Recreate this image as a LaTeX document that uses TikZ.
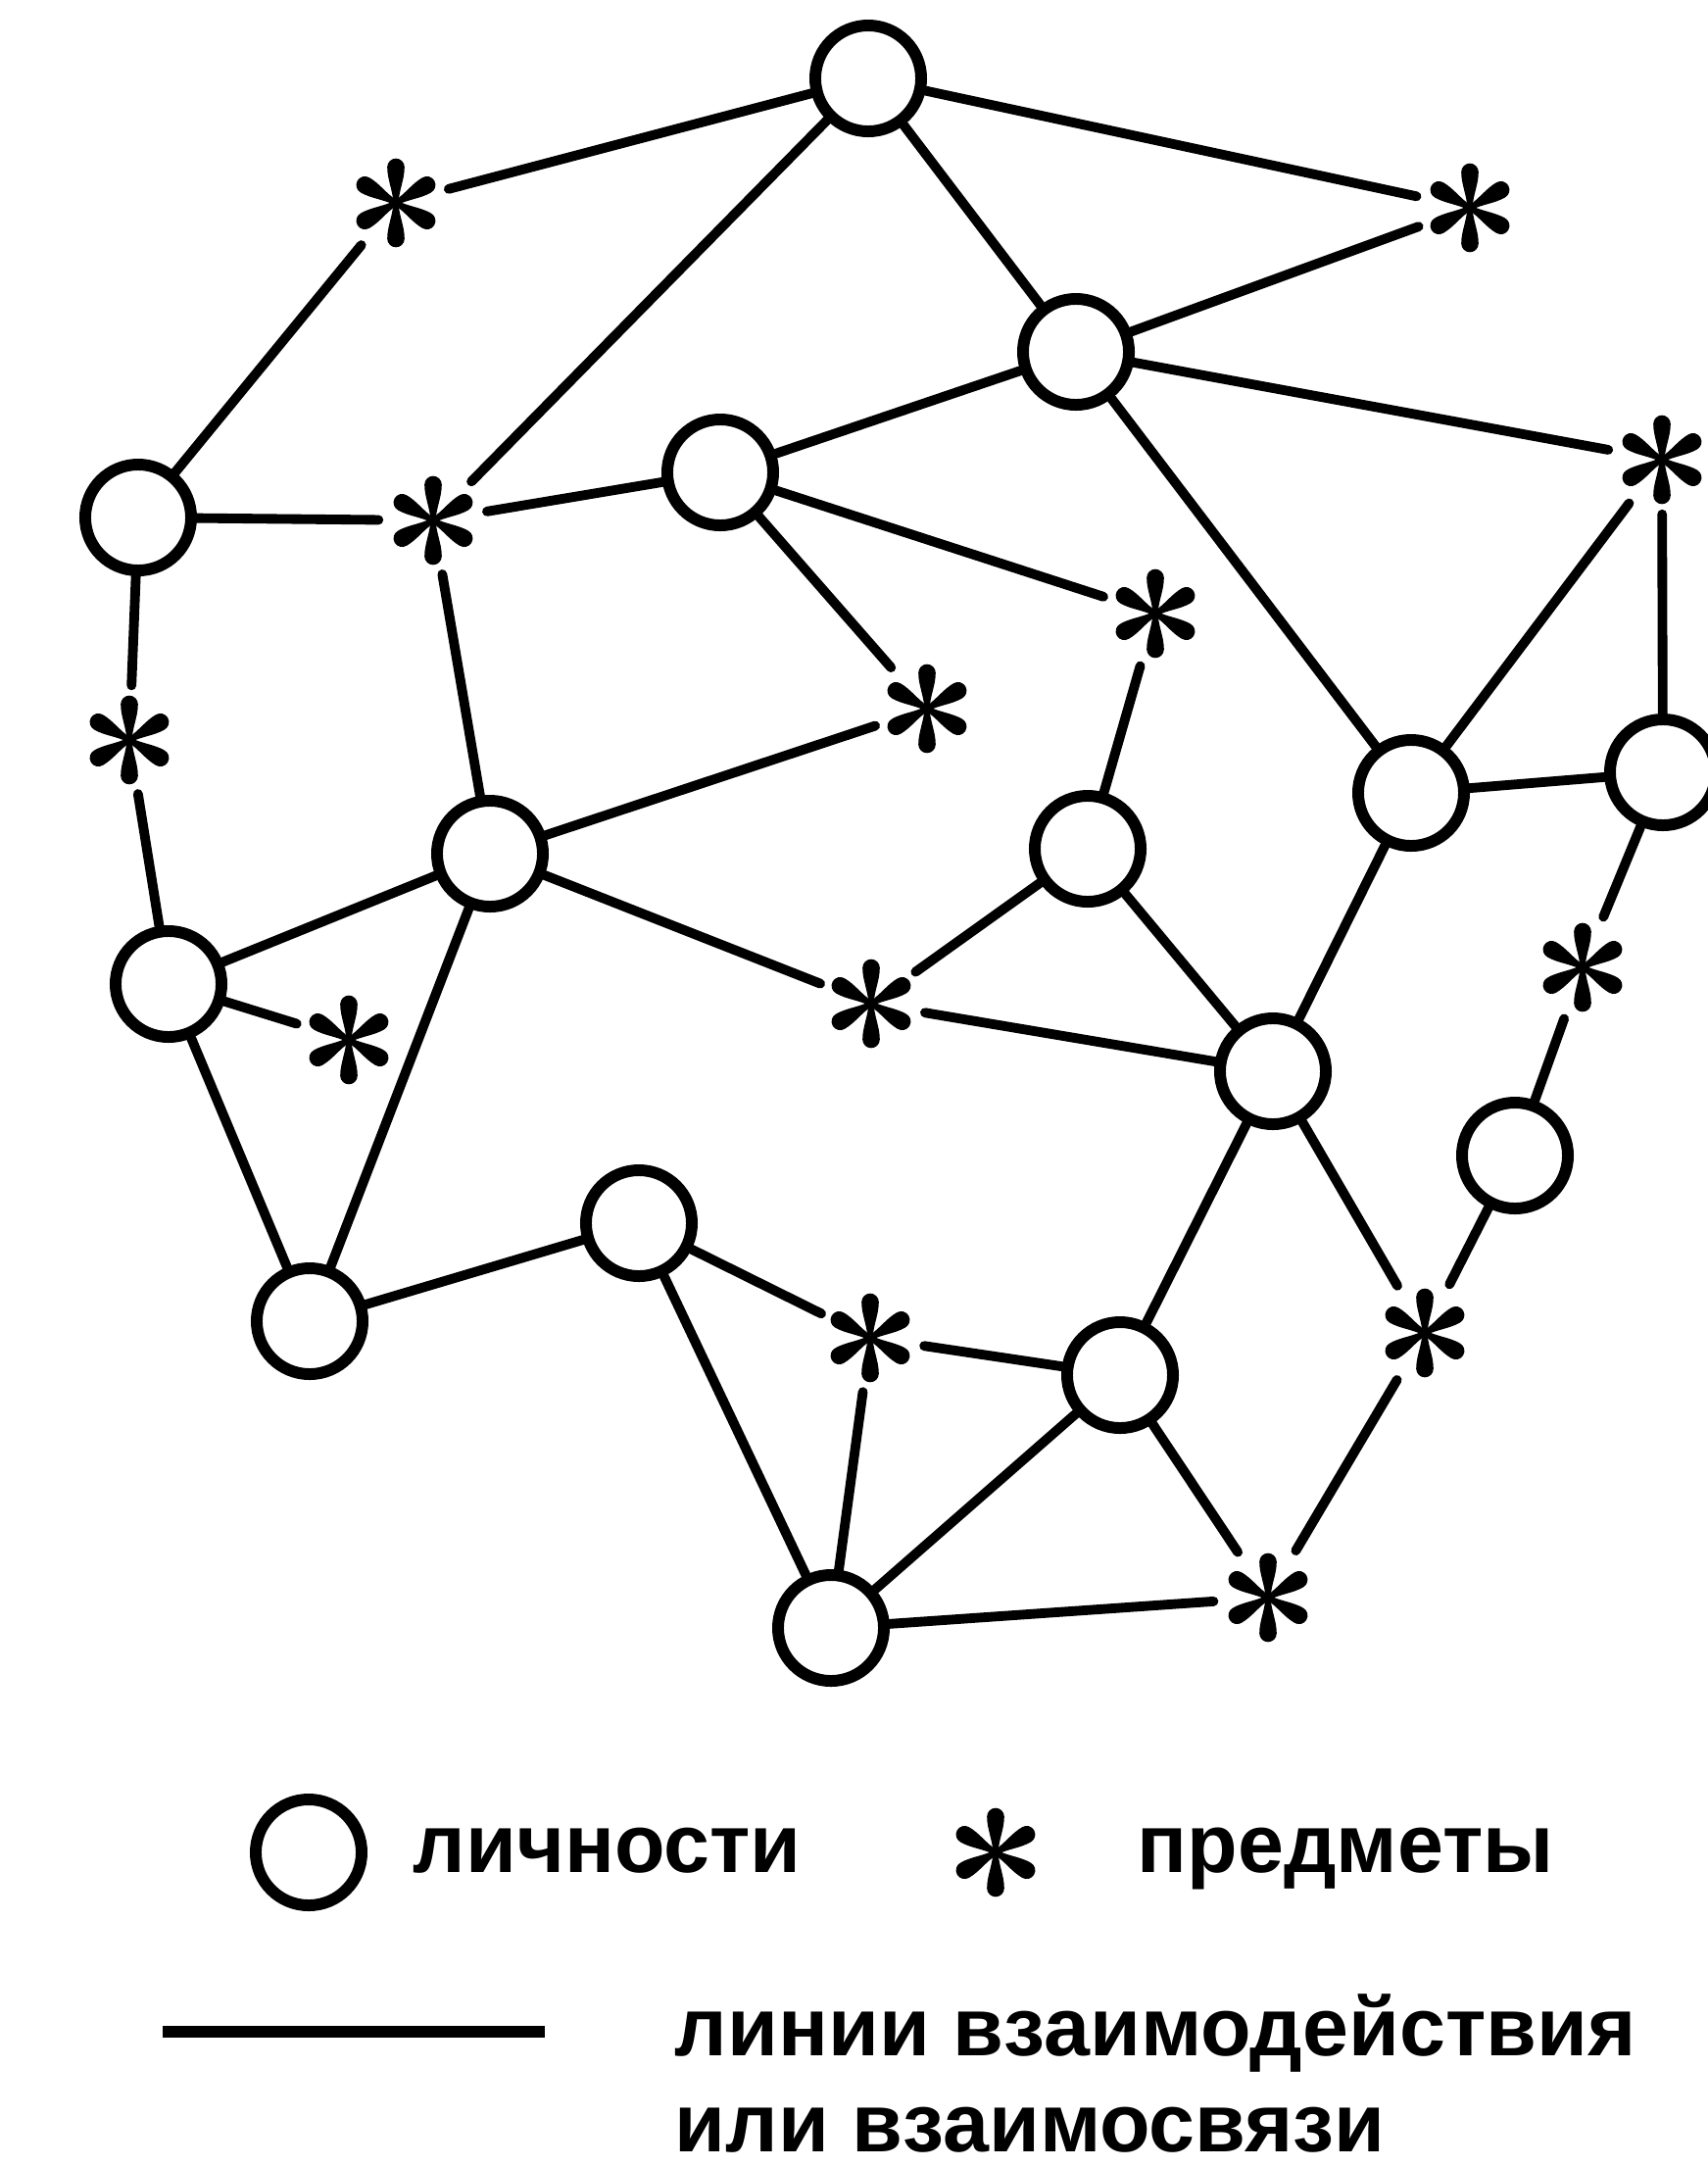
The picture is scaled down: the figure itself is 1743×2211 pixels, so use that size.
\documentclass[tikz,border=0pt]{standalone}
\usepackage{fontspec}
\setmainfont{Liberation Sans}
\usepackage{tikz}
\usetikzlibrary{positioning}
\definecolor{ink}{HTML}{000000}

\tikzset{
  person/.style={circle, draw=ink, line width=3.4pt, minimum size=1.08cm, inner sep=0pt},
  thing/.style={circle, minimum size=1.1cm, inner sep=0pt},
  tie/.style={draw=ink, line width=2.8pt, line cap=round},
  petals/.pic={
    \foreach \a in {90,30,-30,-90,-150,150}{
      \fill[ink, rotate=\a] (0cm,0.025cm) .. controls (0.14cm,0.035cm) and (0.24cm,0.088cm) .. (0.365cm,0.088cm)
        arc[start angle=90, end angle=-90, radius=0.088cm]
        .. controls (0.24cm,-0.088cm) and (0.14cm,-0.035cm) .. (0cm,-0.025cm) -- cycle;
    }
  },
  legendtext/.style={anchor=base west, inner sep=0pt, font=\fontsize{24}{29}\selectfont\bfseries}
}

\begin{document}
\begin{tikzpicture}[x=0.01cm, y=-0.01cm]
  \useasboundingbox (0,0) rectangle (1743,2211);
  % persons
  \foreach \n/\x/\y in {p1/886/80, p2/1098/359, p3/735/482, p4/141/528, p5/1440/809,
                        p6/1697/788, p7/500/871, p8/1110/866, p9/172/1004, p10/1299/1093,
                        p11/1546/1179, p12/652/1248, p13/316/1348, p14/1143/1403, p15/848/1661}{
    \node[person] (\n) at (\x,\y) {};
  }
  % things
  \foreach \n/\x/\y in {s1/404/207, s2/1500/212, s3/1696/469, s4/442/531, s5/1179/626,
                        s6/946/723, s7/132/755, s8/356/1061, s9/889/1024, s10/1615/987,
                        s11/888/1365, s12/1454/1360, s13/1294/1630}{
    \node[thing] (\n) at (\x,\y) {};
    \pic at (\n) {petals};
  }
  % lines of interaction
  \foreach \a/\b in {s1/p1, s1/p4, p1/s2, p1/s4, p1/p2, p2/s2, p2/p3, p2/s3, p2/p5,
                     p3/s4, p3/s5, p3/s6, p4/s4, p4/s7, s7/p9, s4/p7, p7/s6, p7/p9,
                     p7/s9, p7/p13, p9/s8, p9/p13, s5/p8, p8/s9, p8/p10, s9/p10,
                     s3/p5, s3/p6, p5/p6, p5/p10, p6/s10, s10/p11, p11/s12, p10/s12,
                     s12/s13, p10/p14, p14/s11, p14/p15, p14/s13, p13/p12, p12/s11,
                     p12/p15, s11/p15, p15/s13}{
    \draw[tie] (\a) -- (\b);
  }
  % legend
  \node[person] (lp) at (315,1890) {};
  \node[legendtext] (lpt) at (421,1910) {личности};
  \node[thing] (ls) at (1016,1890) {};
  \pic at (ls) {petals};
  \node[legendtext] (lst) at (1160,1910) {предметы};
  \coordinate (la) at (166,2073);
  \coordinate (lb) at (556,2073);
  \draw[tie, line width=3.4pt, line cap=butt] (la) -- (lb);
  \node[legendtext] (llt) at (688,2097) {линии взаимодействия};
  \node[legendtext] (llt2) at (688,2195) {или взаимосвязи};
\end{tikzpicture}
\end{document}
